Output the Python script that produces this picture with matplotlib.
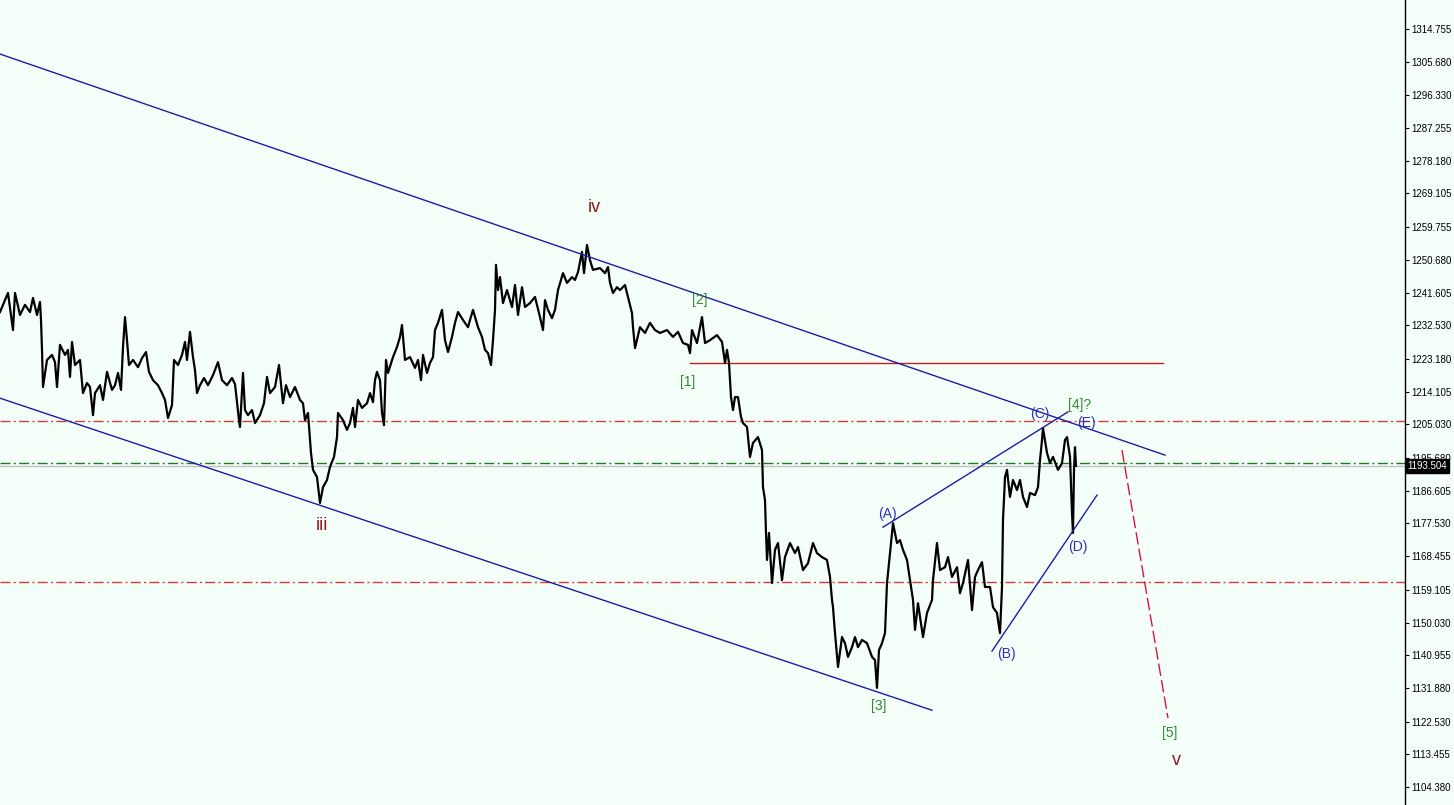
import matplotlib
matplotlib.use('Agg')
import matplotlib.pyplot as plt
import matplotlib.transforms as mtransforms


# /---------------------------------------------------------------------------------------------------------\
# |                                                 CHART DATA                                              |
# \---------------------------------------------------------------------------------------------------------/
bars = [0, 3, 8, 13, 15, 20, 25, 30, 33, 37, 40, 41, 42, 43, 47, 52, 55, 57, 60, 65,
        68, 70, 72, 75, 80, 83, 87, 90, 93, 95, 100, 103, 107, 112, 115, 118, 121, 123, 125, 127,
        129, 133, 138, 142, 146, 149, 153, 158, 162, 165, 168, 172, 174, 178, 182, 185, 187, 190, 193, 195,
        197, 200, 204, 208, 213, 218, 222, 227, 232, 235, 239, 240, 243, 245, 248, 252, 255, 260, 264, 267,
        270, 275, 279, 283, 286, 290, 295, 300, 303, 305, 308, 311, 313, 317, 320, 323, 327, 330, 334, 337,
        338, 343, 347, 350, 353, 355, 358, 362, 367, 370, 373, 375, 377, 380, 382, 384, 386, 388, 393, 397,
        400, 402, 405, 410, 415, 418, 421, 423, 427, 430, 433, 435, 438, 442, 445, 448, 452, 455, 458, 463,
        468, 470, 473, 478, 482, 485, 488, 491, 493, 495, 496, 498, 500, 503, 507, 512, 515, 518, 522, 525,
        530, 535, 540, 543, 545, 548, 552, 555, 558, 563, 567, 572, 575, 578, 582, 584, 587, 590, 593, 600,
        605, 608, 610, 613, 617, 620, 625, 628, 632, 633, 635, 640, 645, 650, 655, 660, 667, 673, 678, 683,
        688, 690, 692, 697, 702, 705, 710, 717, 722, 725, 727, 729, 731, 733, 735, 738, 741, 743, 747, 750,
        753, 758, 762, 763, 765, 766, 767, 769, 772, 775, 778, 782, 785, 790, 795, 798, 803, 808, 813, 817,
        822, 827, 830, 832, 833, 835, 838, 842, 845, 848, 852, 855, 858, 862, 867, 872, 875, 877, 879, 882,
        885, 887, 890, 893, 897, 900, 903, 907, 910, 913, 915, 918, 923, 927, 932, 933, 937, 940, 945, 948,
        952, 957, 960, 963, 968, 972, 975, 978, 982, 985, 990, 993, 997, 998, 1000, 1002, 1003, 1005, 1007, 1010,
        1013, 1017, 1020, 1023, 1027, 1030, 1035, 1038, 1040, 1042, 1043, 1047, 1050, 1053, 1058, 1062, 1065, 1067, 1070, 1072,
        1073, 1074, 1075, 1076]

prices = [1236.2, 1238.2, 1241.5, 1231.2, 1241.5, 1235.4, 1238.2, 1236.2, 1240.1, 1235.4,
          1239.0, 1234.0, 1225.7, 1215.4, 1222.9, 1224.3, 1222.3, 1215.4, 1227.1, 1224.3,
          1225.7, 1218.2, 1227.9, 1221.5, 1222.9, 1213.7, 1216.5, 1215.4, 1207.6, 1213.7,
          1215.9, 1211.8, 1219.6, 1214.6, 1215.9, 1219.3, 1214.6, 1226.5, 1234.8, 1228.4,
          1221.5, 1222.9, 1220.9, 1223.4, 1225.1, 1219.6, 1217.3, 1215.9, 1213.7, 1211.8,
          1206.8, 1210.4, 1222.9, 1221.5, 1224.3, 1227.9, 1222.9, 1230.7, 1223.7, 1220.1,
          1213.7, 1215.9, 1217.9, 1215.9, 1218.7, 1222.3, 1217.3, 1215.9, 1217.9, 1216.2,
          1206.2, 1204.3, 1219.3, 1209.0, 1207.6, 1209.0, 1205.4, 1207.6, 1210.9, 1218.2,
          1213.7, 1215.4, 1221.5, 1210.9, 1215.9, 1212.6, 1215.4, 1211.8, 1210.9, 1206.2,
          1208.2, 1197.1, 1192.4, 1190.4, 1183.2, 1187.6, 1189.6, 1193.2, 1196.0, 1201.5,
          1208.2, 1206.2, 1203.5, 1205.4, 1209.6, 1204.3, 1211.8, 1209.6, 1210.9, 1213.7,
          1211.2, 1217.3, 1219.6, 1217.3, 1208.2, 1204.8, 1222.9, 1219.3, 1223.7, 1226.5,
          1229.3, 1232.6, 1222.9, 1223.7, 1220.7, 1222.9, 1217.3, 1224.3, 1219.3, 1222.1,
          1223.7, 1231.2, 1233.2, 1236.8, 1228.4, 1225.1, 1229.3, 1233.2, 1236.2, 1234.0,
          1232.0, 1234.0, 1236.8, 1232.0, 1229.3, 1225.7, 1224.8, 1221.5, 1228.4, 1236.8,
          1249.3, 1242.3, 1245.9, 1238.7, 1242.3, 1237.6, 1243.7, 1235.4, 1243.1, 1237.6,
          1238.7, 1240.4, 1234.8, 1231.2, 1239.5, 1236.8, 1234.5, 1236.8, 1242.3, 1247.0,
          1244.3, 1245.9, 1245.1, 1247.3, 1252.9, 1247.0, 1254.8, 1250.6, 1247.9, 1248.4,
          1247.0, 1248.7, 1244.3, 1241.5, 1243.1, 1242.3, 1243.7, 1240.4, 1235.9, 1232.0,
          1226.2, 1232.0, 1230.4, 1233.2, 1231.2, 1230.4, 1231.2, 1229.3, 1230.7, 1227.6,
          1227.1, 1224.8, 1231.2, 1227.6, 1234.8, 1227.6, 1228.4, 1229.8, 1227.9, 1222.1,
          1225.7, 1222.1, 1212.6, 1209.0, 1212.6, 1212.6, 1207.1, 1205.4, 1204.3, 1196.0,
          1199.9, 1201.5, 1197.9, 1187.6, 1184.0, 1174.9, 1167.4, 1174.9, 1161.0, 1170.2,
          1172.1, 1161.8, 1168.2, 1172.1, 1169.3, 1171.0, 1164.6, 1166.5, 1172.1, 1169.3,
          1168.2, 1167.4, 1162.7, 1156.3, 1154.3, 1147.1, 1137.7, 1146.0, 1144.3, 1140.5,
          1143.2, 1146.0, 1143.2, 1145.2, 1144.3, 1140.5, 1139.6, 1131.9, 1142.4, 1144.3,
          1147.1, 1161.0, 1169.3, 1177.6, 1172.1, 1172.9, 1170.2, 1167.4, 1161.8, 1156.3,
          1148.0, 1155.4, 1146.0, 1152.7, 1156.3, 1161.8, 1172.1, 1164.6, 1165.4, 1168.2,
          1162.7, 1165.4, 1158.2, 1161.0, 1167.4, 1153.5, 1162.7, 1164.6, 1166.8, 1159.9,
          1159.9, 1154.3, 1152.7, 1150.7, 1147.1, 1159.9, 1178.5, 1190.4, 1192.4, 1184.9,
          1189.6, 1186.8, 1189.6, 1184.9, 1182.1, 1186.0, 1185.4, 1187.6, 1195.1, 1200.7,
          1204.0, 1197.1, 1194.3, 1196.0, 1192.4, 1194.3, 1200.7, 1201.5, 1196.0, 1180.4,
          1174.9, 1192.4, 1198.7, 1193.5]

tick_labels = ['1314.755', '1305.680', '1296.330', '1287.255', '1278.180', '1269.105',
               '1259.755', '1250.680', '1241.605', '1232.530', '1223.180', '1214.105',
               '1205.030', '1195.680', '1186.605', '1177.530', '1168.455', '1159.105',
               '1150.030', '1140.955', '1131.880', '1122.530', '1113.455', '1104.380']

current_price = 1193.504
red_levels = [1205.9, 1161.4]
green_level = 1194.4
resistance = 1222.2

# channel / triangle segments: (bar0, price0, bar1, price1)
channel_upper = (0, 1307.8, 1165, 1196.5)
channel_lower = (0, 1212.3, 932, 1125.7)
triangle_upper = (883, 1176.5, 1068, 1208.5)
triangle_lower = (992, 1142.1, 1097, 1185.4)
projection = (1122, 1197.9, 1168, 1123.5)

wave_roman = [('iv', 594, 1265.3), ('iii', 322, 1177.1), ('v', 1176, 1111.8)]
wave_green = [('[2]', 700, 1239.5), ('[1]', 688, 1216.9), ('[3]', 879, 1126.9),
              ('[4]?', 1080, 1210.4), ('[5]', 1170, 1119.4)]
wave_blue = [('(A)', 887, 1180.1), ('(B)', 1006, 1141.3), ('(C)', 1040, 1207.9),
             ('(D)', 1078, 1171.0), ('(E)', 1086, 1205.4)]

BG = '#f5fffa'
X_MAX = 1405
Y_TOP = 1322.8
Y_BOTTOM = 1099.4


# /---------------------------------------------------------------------------------------------------------\
# |                                                  PLOTTING                                               |
# \---------------------------------------------------------------------------------------------------------/
def segment(ax, seg, **kwargs):
    ax.plot([seg[0], seg[2]], [seg[1], seg[3]], **kwargs)


def main():
    plt.rcParams['font.family'] = ['Liberation Sans', 'DejaVu Sans']
    plt.rcParams['lines.scale_dashes'] = False

    fig = plt.figure(figsize=(14.54, 8.05), dpi=100, facecolor=BG)
    ax = fig.add_axes([0, 0, X_MAX / 1454, 1])
    ax.set_facecolor(BG)
    ax.set_xlim(0, X_MAX)
    ax.set_ylim(Y_BOTTOM, Y_TOP)

    dashdot = (0, (7.2, 2.4, 1.4, 2.4))

    # horizontal levels
    ax.axhline(current_price, color='#c0c0c0', lw=1, zorder=1)
    for lvl in red_levels:
        ax.axhline(lvl, color='#d23c3c', lw=1, linestyle=dashdot, zorder=1)
    ax.axhline(green_level, color='#1e7a1e', lw=1, linestyle=dashdot, zorder=1)
    ax.plot([690, 1163], [resistance, resistance], color='#c41e1e', lw=1, zorder=2)

    # price
    ax.plot(bars, prices, color='black', lw=1.6, zorder=3)

    # channel and triangle
    for seg in (channel_upper, channel_lower, triangle_upper, triangle_lower):
        segment(ax, seg, color='#1c1ca6', lw=1, zorder=4)
    segment(ax, projection, color='#dc143c', lw=1, linestyle=(0, (9, 3)), zorder=4)

    # wave labels
    for txt, x, y in wave_roman:
        ax.text(x, y, txt, color='#8b1a1a', fontsize=13, ha='center', va='center', zorder=5)
    for txt, x, y in wave_green:
        ax.text(x, y, txt, color='#2e8b2e', fontsize=10, ha='center', va='center', zorder=5)
    for txt, x, y in wave_blue:
        ax.text(x, y, txt, color='#3030c0', fontsize=10, ha='center', va='center', zorder=5)

    # right price scale
    for side in ('left', 'top', 'bottom'):
        ax.spines[side].set_visible(False)
    ax.spines['right'].set_color('black')
    ax.spines['right'].set_linewidth(1)
    ax.set_xticks([])
    ax.yaxis.tick_right()
    ax.set_yticks([float(t) for t in tick_labels])
    ax.set_yticklabels(tick_labels)
    ax.tick_params(axis='y', direction='out', length=3, width=0.8, color='black',
                   labelsize=7, labelcolor='black', pad=1.5)

    trans = mtransforms.blended_transform_factory(ax.transAxes, ax.transData)
    ax.text(1.002, current_price, '%.3f' % current_price, transform=trans, color='white',
            fontsize=7, ha='left', va='center', zorder=10, clip_on=False,
            bbox=dict(boxstyle='square,pad=0.18', facecolor='black', edgecolor='black'))

    fig.savefig('out.png', dpi=100, facecolor=BG)


if __name__ == '__main__':
    main()
